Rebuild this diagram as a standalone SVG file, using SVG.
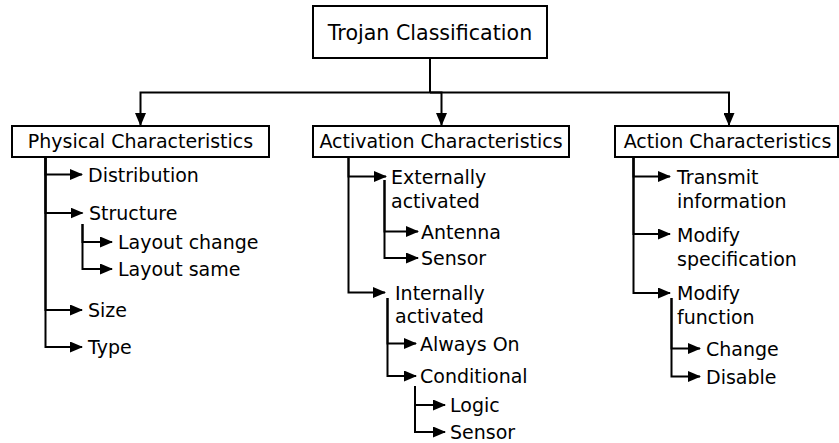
<svg xmlns="http://www.w3.org/2000/svg" width="839" height="443" viewBox="0 0 839 443">
<style>
text{font-family:"DejaVu Sans","Liberation Sans",sans-serif;font-size:19px;fill:#000}
.t{font-size:20.6px}
.box{fill:#fff;stroke:#000;stroke-width:2}
.c{fill:none;stroke:#000;stroke-width:2;marker-end:url(#ah)}
.l{fill:none;stroke:#000;stroke-width:2}
</style>
<defs>
<marker id="ah" markerUnits="userSpaceOnUse" viewBox="0 0 13 11" markerWidth="13" markerHeight="11" refX="12" refY="5.5" orient="auto">
<path d="M0,0 L13,5.5 L0,11 Z" fill="#000"/>
</marker>
</defs>
<rect width="839" height="443" fill="#fff"/>
<g id="connectors">
<path class="l" d="M430,58 V92.5"/>
<path class="c" d="M430,92.5 H140.5 V125"/>
<path class="c" d="M430,92.5 H441.5 V125"/>
<path class="c" d="M430,92.5 H729 V125"/>
<path class="c" d="M45.5,157 V174.5 H82"/>
<path class="c" d="M45.5,157 V213 H82.5"/>
<path class="c" d="M45.5,157 V310 H82"/>
<path class="c" d="M45.5,157 V347 H82"/>
<path class="c" d="M82.5,224 V242 H112"/>
<path class="c" d="M82.5,224 V269 H112"/>
<path class="c" d="M348.5,157 V176.5 H386"/>
<path class="c" d="M348.5,157 V292.5 H385"/>
<path class="c" d="M384.5,180 V231.5 H418"/>
<path class="c" d="M384.5,180 V258 H418"/>
<path class="c" d="M387.5,298 V343.5 H416"/>
<path class="c" d="M387.5,298 V376 H416"/>
<path class="c" d="M415,386 V405 H445"/>
<path class="c" d="M415,386 V432 H445"/>
<path class="c" d="M633.5,157 V176.5 H670"/>
<path class="c" d="M633.5,157 V234 H670"/>
<path class="c" d="M633.5,157 V293 H670"/>
<path class="c" d="M671.5,298 V348.5 H700"/>
<path class="c" d="M671.5,298 V376.5 H700"/>
</g>
<g id="root">
<rect class="box" x="313" y="6" width="234" height="52"/>
<text class="t" x="430" y="40" text-anchor="middle">Trojan Classification</text>
</g>
<g id="physical">
<rect class="box" x="12" y="126" width="257" height="31"/>
<text x="140.5" y="148" text-anchor="middle">Physical Characteristics</text>
</g>
<g id="activation">
<rect class="box" x="313" y="126" width="256" height="31"/>
<text x="441" y="148" text-anchor="middle">Activation Characteristics</text>
</g>
<g id="action">
<rect class="box" x="615" y="126" width="223" height="31"/>
<text x="727.5" y="148" text-anchor="middle">Action Characteristics</text>
</g>
<g id="distribution"><text x="88" y="182">Distribution</text></g>
<g id="structure"><text x="89" y="220">Structure</text></g>
<g id="layout-change"><text x="118" y="249">Layout change</text></g>
<g id="layout-same"><text x="118" y="276">Layout same</text></g>
<g id="size"><text x="88" y="317">Size</text></g>
<g id="type"><text x="88" y="354">Type</text></g>
<g id="externally"><text x="391" y="184">Externally</text><text x="391" y="207.5">activated</text></g>
<g id="antenna"><text x="421" y="238.5">Antenna</text></g>
<g id="sensor1"><text x="421" y="265">Sensor</text></g>
<g id="internally"><text x="395" y="299.5">Internally</text><text x="395" y="323">activated</text></g>
<g id="always-on"><text x="420" y="350.5">Always On</text></g>
<g id="conditional"><text x="420" y="383">Conditional</text></g>
<g id="logic"><text x="450" y="412">Logic</text></g>
<g id="sensor2"><text x="450" y="439">Sensor</text></g>
<g id="transmit"><text x="677" y="184">Transmit</text><text x="677" y="208">information</text></g>
<g id="modify-spec"><text x="677" y="241.5">Modify</text><text x="677" y="265.5">specification</text></g>
<g id="modify-func"><text x="677" y="300">Modify</text><text x="677" y="324">function</text></g>
<g id="change"><text x="706" y="355.5">Change</text></g>
<g id="disable"><text x="706" y="383.5">Disable</text></g>
</svg>
